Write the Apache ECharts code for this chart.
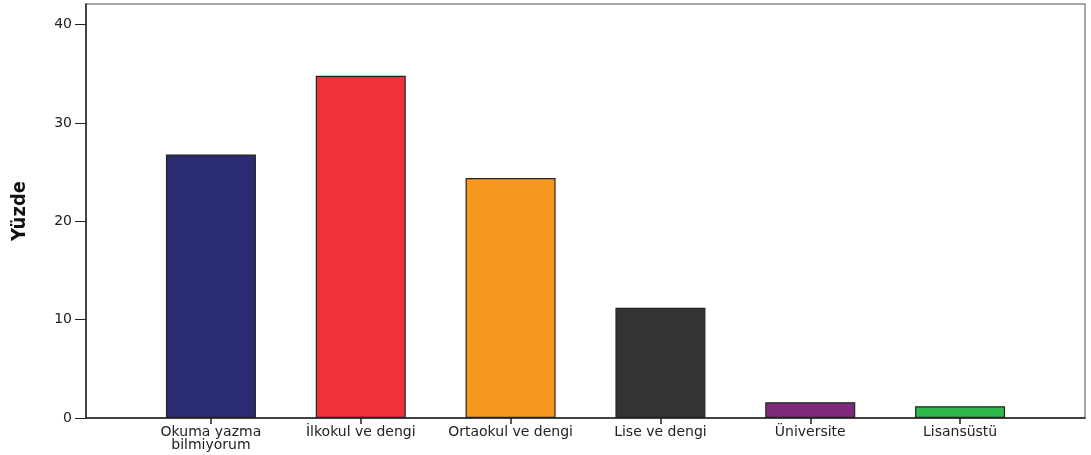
<!DOCTYPE html>
<html>
<head>
<meta charset="utf-8">
<script src="https://cdn.jsdelivr.net/npm/echarts@6/dist/echarts.min.js"></script>
<style>html,body{margin:0;padding:0;background:#fff;}#c{width:1091px;height:455px;}</style>
</head>
<body>
<div id="c"></div>
<script>
const categories = ['Okuma yazma\nbilmiyorum', 'İlkokul ve dengi', 'Ortaokul ve dengi', 'Lise ve dengi', 'Üniversite', 'Lisansüstü'];
const values = [26.8, 34.8, 24.4, 11.2, 1.6, 1.2];
const colors = ['#2a2b70', '#ef323a', '#f7981f', '#333333', '#7e2a7c', '#2fb84b'];
const yTicks = [0, 10, 20, 30, 40];
const yName = 'Yüzde';

const yMin = 0, yMax = 42.1, yStep = 10;
const font = 'DejaVu Sans';

const chart = echarts.init(document.getElementById('c'), null, {renderer: 'canvas'});
chart.setOption({
  animation: false,
  backgroundColor: '#fff',
  grid: [
    {left: 136, right: 56, top: 4, bottom: 37},
    {left: 86, right: 6, top: 4, bottom: 37, show: true, borderColor: '#8a8a8a', borderWidth: 1.5, backgroundColor: 'transparent'}
  ],
  xAxis: [
    {
      gridIndex: 0, type: 'category', data: categories,
      axisLine: {show: false},
      axisTick: {show: true, alignWithLabel: true, length: 6, lineStyle: {color: '#222', width: 1.5}},
      axisLabel: {color: '#222', fontFamily: font, fontSize: 14, lineHeight: 13, margin: 8, interval: 0}
    },
    {
      gridIndex: 1, type: 'value', min: 0, max: 1,
      axisLine: {show: true, onZero: false, lineStyle: {color: '#222', width: 1.5}},
      axisTick: {show: false}, axisLabel: {show: false}, splitLine: {show: false}
    }
  ],
  yAxis: [
    {
      gridIndex: 0, type: 'value', min: yMin, max: yMax,
      show: false, splitLine: {show: false}
    },
    {
      gridIndex: 1, type: 'value', min: yMin, max: yMax, interval: yStep,
      name: yName, nameLocation: 'middle', nameRotate: 90, nameGap: 56,
      nameTextStyle: {fontFamily: '"Liberation Sans Narrow", "DejaVu Sans Condensed"', fontWeight: 'bold', fontSize: 20, color: '#111'},
      axisLine: {show: true, onZero: false, lineStyle: {color: '#222', width: 1.5}},
      axisTick: {show: true, length: 11, lineStyle: {color: '#222', width: 1}},
      axisLabel: {
        color: '#222', fontFamily: font, fontSize: 14, margin: 14,
        showMaxLabel: false,
        formatter: v => (yTicks.indexOf(v) >= 0 ? String(v) : '')
      },
      splitLine: {show: false}
    }
  ],
  series: [{
    type: 'bar', xAxisIndex: 0, yAxisIndex: 0,
    data: values,
    barWidth: 90,
    itemStyle: {
      color: p => colors[p.dataIndex],
      borderColor: '#222', borderWidth: 1.2
    }
  }]
});
</script>
</body>
</html>
